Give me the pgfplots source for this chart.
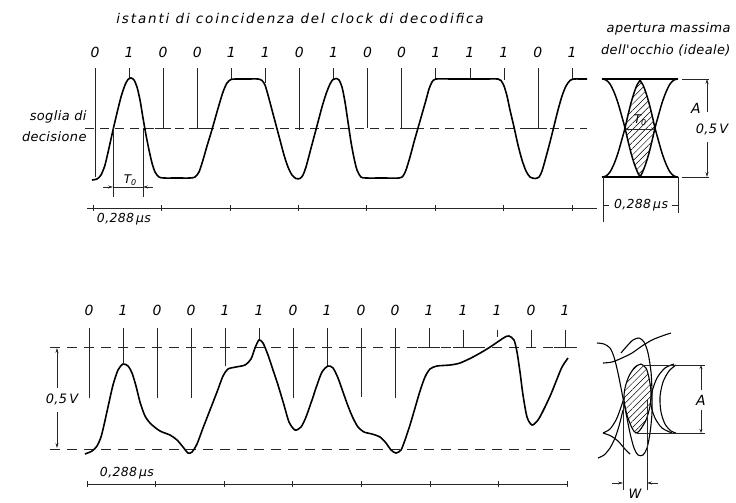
\documentclass[border=0pt]{standalone}
\usepackage{fontspec}
\setmainfont{DejaVu Sans}
\newfontfamily\lab[LetterSpace=3]{DejaVu Sans}
\newfontfamily\ttl[LetterSpace=14]{DejaVu Sans}
\usepackage{pgfplots}
\pgfplotsset{compat=1.18}
\usetikzlibrary{arrows.meta,patterns.meta}
\newcommand{\lf}[1]{\lab\itshape\fontsize{#1}{#1}\selectfont}
\begin{document}
\begin{tikzpicture}
\begin{axis}[x=1bp,y=1bp,y dir=reverse,xmin=0,xmax=736,ymin=0,ymax=496,
  hide axis,clip=false,unbounded coords=jump,
  thin/.style={line width=0.6pt,black!85},
  wave/.style={line width=1.6pt,black,smooth,tension=0.45},
  ann/.style={draw=none,nodes near coords,point meta=explicit symbolic,
     nodes near coords style={anchor=center,inner sep=0pt,font=\lf{14}}}]
% invisible frame
\addplot[draw=none] coordinates {(0,0) (736,496)};

% ===== TOP PANEL =====
\node[font=\ttl\itshape\fontsize{13.5}{13.5}\selectfont] at (axis cs:300,18) {istanti di coincidenza del clock di decodifica};
\node[font=\lf{13},anchor=east] at (axis cs:734,29) {apertura massima};
\node[font=\lf{13},anchor=east] at (axis cs:734,50) {dell'occhio (ideale)};
\node[font=\lf{13},anchor=east] at (axis cs:90,117) {soglia di};
\node[font=\lf{13},anchor=east] at (axis cs:90,137) {decisione};

% bits
\addplot[ann] coordinates {(95,52)[0] (129.1,52)[1] (163.1,52)[0] (197.2,52)[0] (231.3,52)[1]
 (265.4,52)[1] (299.4,52)[0] (333.5,52)[1] (367.6,52)[0] (401.6,52)[0] (435.7,52)[1]
 (469.8,52)[1] (503.8,52)[1] (537.9,52)[0] (572,52)[1]};

% clock lines
\addplot[thin] coordinates {(95,68)(95,177)(95,nan) (129.1,68)(129.1,78)(129.1,nan)
 (163.1,68)(163.1,128)(163.1,nan) (197.2,68)(197.2,128)(197.2,nan)
 (231.3,68)(231.3,80)(231.3,nan) (265.4,68)(265.4,83)(265.4,nan)
 (299.4,68)(299.4,130)(299.4,nan) (333.5,68)(333.5,80)(333.5,nan)
 (367.6,68)(367.6,128)(367.6,nan) (401.6,68)(401.6,128)(401.6,nan)
 (435.7,68)(435.7,79)(435.7,nan) (469.8,68)(469.8,79)(469.8,nan)
 (503.8,68)(503.8,80)(503.8,nan) (537.9,68)(537.9,128)(537.9,nan)
 (572,68)(572,80)};
% small ticks at threshold
\addplot[thin] coordinates {(155,128)(171,128)(171,nan) (189,128)(205,128)(205,nan)
 (400,128)(418,128)(418,nan) (528,128)(547,128)};
% threshold dashed
\addplot[thin,dash pattern=on 9bp off 6bp] coordinates {(85,128)(587,128)};

% waveform
\addplot[wave] coordinates {(92,180) (97,179) (101,175) (105,165) (109,148) (113,130) (117,113)
 (121,97) (125,85) (128,79.5) (131,78) (134,80) (137,87) (140,100) (143,118) (146,135)
 (149,150) (152,163) (155,172) (159,177) (164,178) (177,178) (190,178) (195,177) (199,172)
 (203,160) (207,146) (211,133) (215,119) (219,105) (223,92) (227,83) (231,79.5) (236,79)
 (247,79) (258,79) (262,80.5) (265,85) (268,95) (272,110) (276,125) (280,140) (284,155)
 (288,167) (292,175) (296,178.5) (300,178.5) (303,175) (306,167) (310,152) (314,137)
 (318,122) (322,107) (326,94) (330,84) (333,79.5) (336,78.5) (339,80) (342,87) (345,102)
 (348,122) (351,142) (354,158) (357,170) (361,177) (366,178) (383,178) (399,178) (403,176)
 (406,170) (410,157) (414,142) (418,128) (422,114) (426,100) (429,89) (432,82) (436,79)
 (452,79) (468,79) (484,79) (498,79) (501,80.5) (504,86) (507,96) (510,110) (514,127)
 (518,145) (522,160) (526,171) (530,177) (535,178.5) (539,177) (542,171) (546,157)
 (550,142) (554,126) (558,110) (562,96) (566,86) (570,80.5) (574,79) (580,79) (587,79)};

% T0 dimension
\addplot[thin] coordinates {(113,128)(113,197)(113,nan) (143,128)(143,197)(143,nan) (113,187)(143,187)};
\addplot[thin,-{Stealth[length=5pt,width=3pt]}] coordinates {(103,187)(113,187)};
\addplot[thin,-{Stealth[length=5pt,width=3pt]}] coordinates {(153,187)(143,187)};
\node[font=\lf{12}] at (axis cs:130,180) {T\raisebox{-0.35ex}{\fontsize{8}{8}\selectfont 0}};

% time axis
\addplot[thin] coordinates {(87,208)(597,208)};
\addplot[thin,only marks,mark=|,mark size=3pt,mark options={solid,line width=0.6pt}] coordinates
 {(93,208)(161.4,208)(229.9,208)(298.3,208)(366.7,208)(435.1,208)(503.6,208)(572,208)};
\node[font=\lf{12.5}] at (axis cs:124,219) {0,288\,µs};

% ideal eye
\addplot[pattern={Lines[angle=45,distance=4.5pt,line width=0.5pt]},draw=none] coordinates
 {(625,128)(628,115)(631,103)(634,93)(637,85)(640,79.5)(643,85)(646,93)(649,103)(652,115)(655,128)
  (652,141)(649,153)(646,163)(643,171)(640,177)(637,171)(634,163)(631,153)(628,141)(625,128)} -- cycle;
\addplot[line width=1.5pt,smooth] coordinates {(602,79)(606,80)(610,84)(614,92)(618,103)(622,117)(625,128)(628,141)(631,153)(634,163)(637,171)(640,177)};
\addplot[line width=1.5pt,smooth] coordinates {(602,177)(606,176)(610,172)(614,164)(618,153)(622,139)(625,128)(628,115)(631,103)(634,93)(637,85)(641,79)};
\addplot[line width=1.5pt,smooth] coordinates {(639,79)(643,85)(646,93)(649,103)(652,115)(655,128)(658,139)(662,153)(666,164)(670,172)(674,176)(678,177)};
\addplot[line width=1.5pt,smooth] coordinates {(678,79)(674,80)(670,84)(666,92)(662,103)(658,117)(655,128)(652,141)(649,153)(646,163)(643,171)(640,177)};
\addplot[line width=1.5pt] coordinates {(602,79)(678,79)(678,nan) (602,177)(678,177)};
\addplot[thin,{Stealth[length=4pt,width=3pt]}-{Stealth[length=4pt,width=3pt]}] coordinates {(625,129)(655,129)};
\node[font=\lf{12}] at (axis cs:640,120) {T\raisebox{-0.35ex}{\fontsize{8}{8}\selectfont 0}};
% A / 0,5V dimension
\addplot[thin] coordinates {(682,79)(709,79)(709,nan) (682,177)(709,177)};
\addplot[thin,-{Stealth[length=5pt,width=3pt]}] coordinates {(707,112)(707,79)};
\addplot[thin,-{Stealth[length=5pt,width=3pt]}] coordinates {(707,142)(707,177)};
\node[font=\lf{14}] at (axis cs:696,108) {A};
\node[font=\lf{13}] at (axis cs:712,129) {0,5\,V};
% 0,288 dimension of eye
\addplot[thin] coordinates {(603,177)(603,222)(603,nan) (678,177)(678,213)(678,nan) (603,205)(609,205)(609,nan) (672,205)(678,205)};
\node[font=\lf{12.5}] at (axis cs:641,205) {0,288\,µs};

% ===== BOTTOM PANEL =====
\addplot[ann] coordinates {(89,310)[0] (123,310)[1] (157,310)[0] (191,310)[0] (225,310)[1]
 (259,310)[1] (293,310)[0] (327,310)[1] (361,310)[0] (395,310)[0] (429,310)[1]
 (463,310)[1] (497,310)[1] (531,310)[0] (565,310)[1]};
\addplot[thin] coordinates {(89,328)(89,398)(89,nan) (123,328)(123,363)(123,nan)
 (157,328)(157,398)(157,nan) (191,328)(191,398)(191,nan) (225,328)(225,366)(225,nan)
 (259,328)(259,340)(259,nan) (293,328)(293,398)(293,nan) (327,328)(327,366)(327,nan)
 (361,328)(361,397)(361,nan) (395,328)(395,398)(395,nan) (429,328)(429,347)(429,nan)
 (463,330)(463,347)(463,nan) (497,330)(497,337)(497,nan) (531,330)(531,347)(531,nan)
 (565,330)(565,347)(565,nan)
 (418,347)(440,347)(440,nan) (453,347)(475,347)(475,nan) (554,347)(577,347)};
\addplot[thin,dash pattern=on 10bp off 7bp] coordinates {(50,347)(577,347)};
\addplot[thin,dash pattern=on 10bp off 7bp] coordinates {(50,449)(577,449)};
% distorted waveform
\addplot[wave] coordinates {(85,454) (92,451) (97,446) (101,437) (104,425) (108,407) (113,385)
 (118,370) (123,364) (128,366) (132,373) (136,386) (140,402) (145,416) (151,424) (160,431)
 (170,435) (177,440) (183,447) (188,453) (192,452) (197,444) (203,428) (210,410) (217,392)
 (223,376) (228,369) (236,367) (245,365) (251,359) (255,348) (259,340) (263,343) (268,355)
 (273,370) (278,385) (284,405) (289,422) (295,430) (301,427) (306,417) (312,400) (317,385)
 (322,372) (328,366) (333,368) (338,378) (343,392) (348,406) (353,418) (358,427) (364,432)
 (372,434) (380,437) (386,443) (391,450) (396,453) (401,450) (405,440) (410,425) (415,408)
 (420,391) (425,377) (430,369) (437,366) (450,365) (460,363) (473,357) (487,349) (499,341)
 (505,337) (509,336) (514,340) (517,352) (520,372) (523,395) (527,417) (532,425) (538,420)
 (544,409) (551,394) (557,379) (562,367) (568,358)};
% 0,5V dimension
\addplot[thin,-{Stealth[length=5pt,width=3pt]}] coordinates {(57,388)(57,348)};
\addplot[thin,-{Stealth[length=5pt,width=3pt]}] coordinates {(57,412)(57,448)};
\node[font=\lf{13}] at (axis cs:62,399) {0,5\,V};
% time axis
\addplot[thin] coordinates {(87,484)(567,484)};
\addplot[thin,only marks,mark=|,mark size=3pt,mark options={solid,line width=0.6pt}] coordinates
 {(87,484)(155.6,484)(224.1,484)(292.7,484)(361.3,484)(429.9,484)(498.4,484)(567,484)};
\node[font=\lf{12.5}] at (axis cs:127,473) {0,288\,µs};

% distorted eye
\addplot[pattern={Lines[angle=45,distance=4.5pt,line width=0.5pt]},draw=none] coordinates
 {(641,364)(646,368)(649,378)(651,392)(650,406)(646,420)(640,430)(636,433)(632,428)(627,415)
  (624,400)(625,388)(629,376)(635,367)(641,364)} -- cycle;
\addplot[line width=1.1pt,smooth] coordinates {(641,364)(646,368)(649,378)(651,392)(650,406)(646,420)(640,430)(636,433)(632,428)(627,415)
  (624,400)(625,388)(629,376)(635,367)(641,364)};
\addplot[line width=1.1pt,smooth] coordinates {(597,343)(604,344)(610,348)(614,357)(618,373)(622,393)(626,413)(630,433)(634,448)(638,455)(643,455)(647,448)(650,433)(652,413)(652,393)(651,372)(648,353)(644,342)(639,338)(633,340)(627,346)(621,353)};
\addplot[line width=1.1pt,smooth] coordinates {(603,363)(612,362)(622,358)(632,353)(642,346)(652,340)(662,336)(671,333)};
\addplot[line width=1.1pt,smooth] coordinates {(674,364)(665,368)(657,378)(652,392)(651,405)(655,418)(662,428)(672,433)};
\addplot[line width=1.1pt,smooth] coordinates {(676,365)(669,371)(663,382)(660,397)(661,412)(665,424)(671,431)(676,433)};
\addplot[line width=1.1pt,smooth] coordinates {(603,433)(610,429)(616,420)(620,410)(624,398)};
\addplot[line width=1.1pt,smooth] coordinates {(603,433)(611,436)(618,441)(624,448)(630,454)};
\addplot[line width=1.1pt,smooth] coordinates {(598,458)(604,455)(610,448)(615,438)(619,426)(623,410)};
% A dimension
\addplot[thin] coordinates {(643,365)(705,365)(705,nan) (637,433)(705,433)};
\addplot[thin,-{Stealth[length=4pt,width=3pt]}] coordinates {(701,390)(701,365)};
\addplot[thin,-{Stealth[length=4pt,width=3pt]}] coordinates {(701,410)(701,433)};
\node[font=\lf{14}] at (axis cs:701,400) {A};
% W dimension
\addplot[thin] coordinates {(623,400)(623,490)(623,nan) (647,400)(647,490)};
\addplot[thin,-{Stealth[length=5pt,width=3pt]}] coordinates {(612,483)(623,483)};
\addplot[thin,-{Stealth[length=5pt,width=3pt]}] coordinates {(658,483)(647,483)};
\node[font=\lf{13}] at (axis cs:635,494) {W};
\end{axis}
\end{tikzpicture}
\end{document}
